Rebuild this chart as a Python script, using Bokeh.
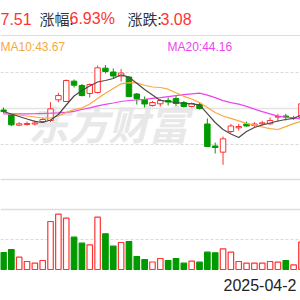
from bokeh.plotting import figure
from bokeh.models import Range1d, Label
from bokeh.embed import file_html
from bokeh.resources import INLINE

# ---- data ----
opens = [46.15, 45.09, 42.81, 42.96, 43.07, 43.62, 43.84, 48.39, 48.02, 52.49,
         51.54, 49.78, 50.00, 55.35, 54.51, 53.63, 53.41, 49.67, 48.46, 47.14,
         47.51, 48.24, 48.68, 47.80, 46.92, 47.36, 43.07, 38.23, 36.87, 41.42,
         42.23, 43.07, 42.74, 43.11, 43.11, 44.57, 44.83, 44.30, 44.50]
highs = [46.70, 45.31, 43.47, 43.62, 43.84, 44.50, 47.87, 49.93, 52.86, 52.86,
         51.87, 51.98, 55.94, 56.05, 55.28, 55.17, 53.52, 49.89, 49.12, 48.13,
         48.57, 48.90, 49.34, 48.13, 47.80, 47.91, 44.28, 38.98, 40.32, 43.07,
         43.11, 43.62, 43.47, 43.77, 44.50, 45.31, 45.31, 44.90, 47.80]
lows = [45.38, 42.59, 42.59, 42.74, 42.74, 43.40, 43.47, 47.87, 47.91, 51.10,
        49.12, 48.90, 49.78, 54.18, 53.19, 52.42, 49.01, 47.36, 46.70, 46.92,
        46.92, 47.14, 47.03, 46.70, 46.70, 46.26, 38.01, 36.58, 34.09, 41.09,
        41.64, 42.52, 42.37, 42.74, 42.89, 43.62, 43.84, 43.95, 44.30]
closes = [45.82, 42.89, 43.11, 43.18, 43.29, 44.06, 46.41, 49.34, 52.64, 51.61,
          49.34, 51.76, 55.43, 54.62, 53.63, 54.29, 49.12, 48.68, 47.47, 47.80,
          48.24, 47.91, 47.58, 46.92, 47.58, 46.48, 38.12, 37.90, 39.81, 42.63,
          42.52, 42.63, 43.07, 43.33, 43.84, 44.72, 44.61, 44.43, 47.51]
ma5 = [45.82, 45.27, 44.72, 44.17, 43.66, 43.40, 43.95, 45.16, 47.25, 49.23,
       50.44, 51.43, 52.31, 52.64, 53.08, 53.89, 53.37, 52.02, 50.66, 49.47,
       48.26, 48.02, 47.80, 47.62, 47.51, 47.29, 45.34, 43.40, 41.86, 40.87,
       40.10, 41.42, 42.30, 42.85, 43.29, 43.73, 44.06, 44.32, 45.05]
ma10 = [45.49, 45.27, 45.05, 44.83, 44.61, 44.39, 44.39, 44.83, 45.60, 46.24,
        46.59, 47.47, 48.70, 49.85, 50.88, 51.91, 52.18, 52.11, 51.59, 51.21,
        51.10, 50.73, 49.93, 49.16, 48.56, 47.78, 46.68, 45.60, 44.83, 44.32,
        43.75, 43.22, 42.76, 42.41, 42.04, 41.86, 42.50, 43.16, 43.67]
ma20 = [45.31, 45.31, 45.31, 45.31, 45.34, 45.38, 45.45, 45.53, 45.64, 45.86,
        46.26, 46.63, 47.07, 47.40, 47.69, 48.02, 48.24, 48.39, 48.50, 48.72,
        48.86, 49.10, 49.32, 49.52, 49.71, 49.85, 49.43, 48.86, 48.22, 47.76,
        47.43, 46.96, 46.35, 45.78, 45.29, 44.81, 44.59, 44.39, 44.16]
volumes = [34.0, 40.0, 24.6, 16.0, 12.6, 18.0, 96.0, 110.6, 102.6, 64.6,
           52.6, 49.4, 104.6, 71.4, 46.6, 54.0, 56.0, 26.0, 20.0, 15.0,
           22.0, 18.0, 22.0, 12.6, 16.6, 14.6, 34.6, 33.4, 41.4, 34.6,
           16.0, 12.6, 12.6, 12.6, 16.0, 14.6, 18.0, 9.4, 54.6]
vol_up = [False, False, True, True, True, True, True, True, True, False,
          False, True, True, False, False, True, False, False, False, True,
          True, False, False, False, True, False, False, False, True, True,
          True, True, True, True, True, True, False, True, True]

header_price = "7.51"
header_pct_label = "涨幅:"
header_pct = "6.93%"
header_chg_label = "涨跌:"
header_chg = "3.08"
ma10_label = "MA10:43.67"
ma20_label = "MA20:44.16"
date_label = "2025-04-2"
watermark = "东方财富"

RED = "#ff3333"
GREEN = "#009a00"
ORANGE = "#f7a940"
MAGENTA = "#ee44ee"
DARK = "#4a4a4a"
GRID = "#dadada"

idx = list(range(len(closes)))
up = [c >= o for o, c in zip(opens, closes)]

p = figure(width=300, height=300, x_range=Range1d(-0.383, 37.88),
           y_range=Range1d(4.24, 70.24), output_backend="svg",
           toolbar_location=None, min_border=0,
           x_axis_location=None, y_axis_location=None)
p.outline_line_color = None
p.grid.visible = False
p.background_fill_color = "white"
p.extra_y_ranges = {"vol": Range1d(-62, 538)}

# watermark
p.add_layout(Label(x=28, y=178, x_units="screen", y_units="screen", text=watermark,
                   text_font="Noto Sans CJK SC", text_font_size="40px",
                   text_font_style="bold italic", text_color="#e8e8e8",
                   text_baseline="middle", level="underlay"))

# grid / separator lines
p.hspan(y=[62.65], line_color="#dddddd", line_width=1)
p.hspan(y=[54.40, 38.56], line_color=GRID, line_width=1, line_dash="3 2")
p.hspan(y=[46.59], line_color="#e4e4e4", line_width=1.5)
p.hspan(y=[30.86], line_color="#dddddd", line_width=1.5)
p.hspan(y=[120], line_color="#dddddd", line_width=1.5, y_range_name="vol")
p.hspan(y=[60], line_color=GRID, line_width=1, line_dash="3 2", y_range_name="vol")

# candles
colors = [RED if u else GREEN for u in up]
fills = ["white" if u else GREEN for u in up]
p.segment(x0=idx, y0=lows, x1=idx, y1=highs, line_color=colors, line_width=1)
tops = [max(o, c) for o, c in zip(opens, closes)]
bots = [min(o, c) for o, c in zip(opens, closes)]
p.vbar(x=idx, width=0.7, top=tops, bottom=bots, fill_color=fills,
       line_color=colors, line_width=1)

# moving averages
p.line(idx, ma20, line_color=MAGENTA, line_width=1.2)
p.line(idx, ma10, line_color=ORANGE, line_width=1.2)
p.line(idx, ma5, line_color=DARK, line_width=1.2)

# volume
vcolors = [RED if u else GREEN for u in vol_up]
vfills = ["white" if u else GREEN for u in vol_up]
p.vbar(x=idx, width=0.7, top=volumes, bottom=0, fill_color=vfills,
       line_color=vcolors, line_width=1.2, y_range_name="vol")

# texts
def lab(x, y, text, color, size, font):
    p.add_layout(Label(x=x, y=y, x_units="screen", y_units="screen", text=text,
                       text_color=color, text_font_size=size, text_font=font,
                       text_baseline="middle"))

lab(0, 282, header_price, RED, "16px", "Liberation Sans")
lab(39, 282, header_pct_label, "#333333", "15px", "Noto Sans CJK SC")
lab(69, 282, header_pct, RED, "16px", "Liberation Sans")
lab(127, 282, header_chg_label, "#333333", "15px", "Noto Sans CJK SC")
lab(160, 282, header_chg, RED, "16px", "Liberation Sans")
lab(0, 254, ma10_label, ORANGE, "12px", "Liberation Sans")
lab(167, 254, ma20_label, MAGENTA, "12px", "Liberation Sans")
lab(223, 16, date_label, "#222222", "16px", "Liberation Sans")

open("out.html", "w").write(file_html(p, INLINE))
